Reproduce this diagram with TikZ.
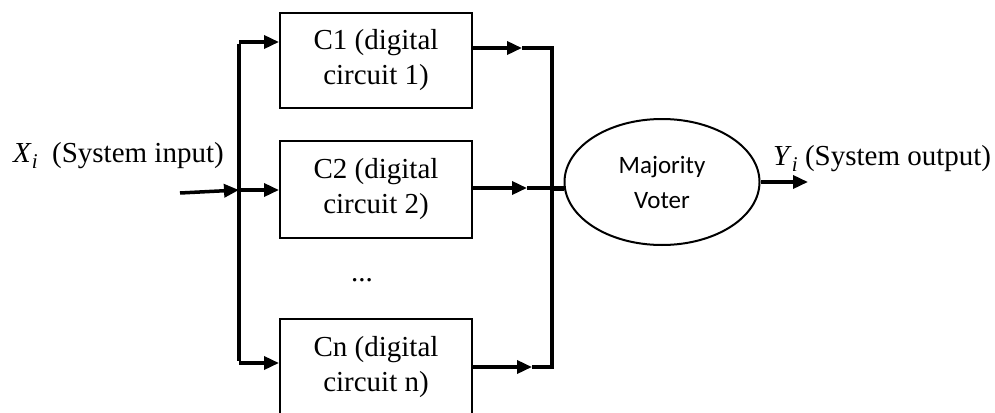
\documentclass[tikz,border=0pt]{standalone}
\usepackage{fontspec}
\setmainfont{Liberation Serif}
\newfontfamily\voterfont{Carlito}
\usetikzlibrary{arrows.meta,shapes.geometric}
\newcommand{\varsub}[2]{\textit{#1}\raisebox{-6pt}{\fontsize{21}{21}\selectfont\textit{#2}}}
\begin{document}
\begin{tikzpicture}[x=1pt,y=-1pt,
  circbox/.style={draw,line width=2pt,minimum width=192pt,align=center,
    font=\fontsize{29}{35}\selectfont,inner sep=0pt},
  wire/.style={line width=3.5pt},
  arr/.style={wire,-{Triangle[length=15pt,width=13pt]}},
  lbl/.style={font=\fontsize{29}{35}\selectfont,inner sep=0pt}]
\useasboundingbox (0,0) rectangle (995,412);
\clip (0,0) rectangle (995,412);
% boxes
\node[circbox,minimum height=95pt] (C1) at (376,60.5) {C1 (digital\\circuit 1)};
\node[circbox,minimum height=97pt] (C2) at (376,189.5) {C2 (digital\\circuit 2)};
\node[circbox,minimum height=96pt] (Cn) at (376,367) {Cn (digital\\circuit n)};
\node[lbl] (dots) at (362,280) {...};
% voter
\node[draw,ellipse,line width=2pt,minimum width=195pt,minimum height=126pt,
  align=center,font=\voterfont\fontsize{25}{35}\selectfont] (V) at (662,182) {Majority\\Voter};
% coordinates
\coordinate (bl1) at (239,42);
\coordinate (bl2) at (239,190);
\coordinate (bln) at (239,363);
\coordinate (br1) at (552,48);
\coordinate (br2) at (552,188);
\coordinate (brn) at (552,367);
\coordinate (t1) at (522,48);
\coordinate (t2) at (527,188);
\coordinate (tn) at (532,367);
\coordinate (in) at (180,193);
\coordinate (out) at (808,182);
% left bus
\draw[wire] ([yshift=-1.75pt]bl1) -- ([yshift=1.75pt]bln);
\draw[arr] (in) -- (bl2);
\draw[arr] (bl1) -- (C1.west |- bl1);
\draw[arr] (bl2) -- (C2.west |- bl2);
\draw[arr] (bln) -- (Cn.west |- bln);
% right bus
\draw[wire] ([yshift=-1.75pt]br1) -- ([yshift=1.75pt]brn);
\draw[arr] (C1.east |- br1) -- (t1);
\draw[wire] (t1) -- ([xshift=1.75pt]br1);
\draw[arr] (C2.east |- br2) -- (t2);
\draw[wire] (t2) -- (br2);
\draw[arr] (Cn.east |- brn) -- (tn);
\draw[wire] (tn) -- ([xshift=1.75pt]brn);
\draw[line width=5pt] (br2) -- (V.west |- br2);
% output
\draw[arr] (V.east) -- (out);
% labels
\node[lbl,anchor=base west] (xl) at (13,162) {\varsub{X}{i}\ \ (System input)};
\node[lbl,anchor=base west] (yl) at (773,165) {\varsub{Y}{i} (System output)};
\end{tikzpicture}
\end{document}
